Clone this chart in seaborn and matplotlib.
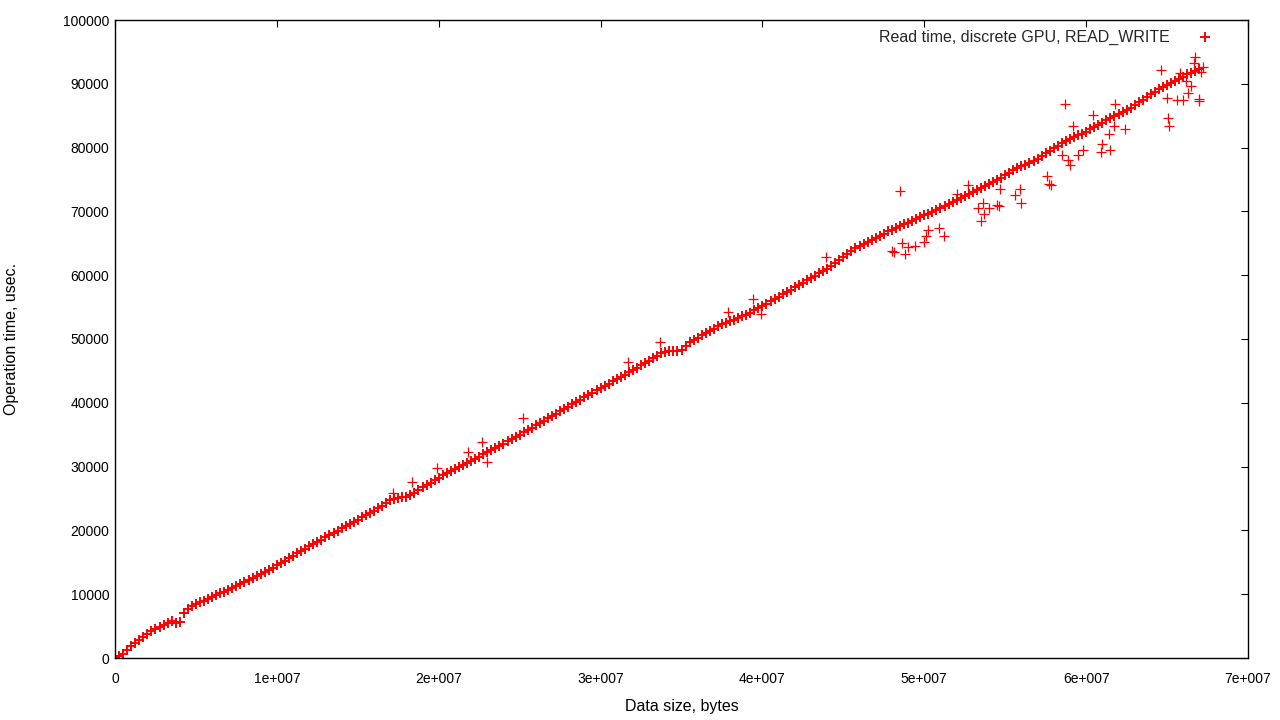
import numpy as np
import pandas as pd
import matplotlib
matplotlib.use("Agg")
import matplotlib.pyplot as plt
import seaborn as sns

# main band: read time (usec) every 0.25 MB of data size
band_step = 250_000
band_time = [
    0, 350, 700, 1280, 1830, 2300, 2800, 3290, 3780, 4230,
    4580, 4930, 5230, 5530, 5750, 5500, 5600, 7000, 7700, 8100,
    8400, 8700, 9000, 9300, 9600, 9870, 10150, 10420, 10690, 10980,
    11290, 11600, 11900, 12230, 12550, 12880, 13200, 13530, 13850, 14180,
    14500, 14880, 15250, 15630, 16000, 16380, 16750, 17130, 17500, 17850,
    18200, 18550, 18900, 19250, 19600, 19950, 20300, 20650, 21000, 21350,
    21700, 22050, 22400, 22750, 23100, 23500, 23900, 24300, 24700, 24900,
    25100, 25250, 25300, 25480, 25900, 26330, 26730, 27100, 27480, 27860,
    28240, 28620, 29000, 29310, 29630, 29940, 30250, 30560, 30880, 31210,
    31550, 31900, 32240, 32590, 32930, 33280, 33620, 33970, 34310, 34660,
    35000, 35370, 35730, 36100, 36460, 36830, 37190, 37560, 37920, 38290,
    38650, 39020, 39380, 39750, 40110, 40480, 40840, 41210, 41570, 41940,
    42300, 42650, 43000, 43350, 43700, 44050, 44400, 44750, 45100, 45480,
    45860, 46250, 46630, 47010, 47390, 47770, 48000, 48050, 48050, 48100,
    48330, 48920, 49500, 49860, 50210, 50570, 50920, 51280, 51630, 51990,
    52300, 52550, 52800, 53050, 53300, 53550, 53800, 54150, 54500, 54850,
    55200, 55560, 55930, 56290, 56650, 57010, 57380, 57740, 58100, 58460,
    58830, 59190, 59550, 59910, 60280, 60640, 61000, 61470, 61940, 62410,
    62880, 63340, 63810, 64200, 64530, 64870, 65200, 65530, 65870, 66200,
    66530, 66860, 67140, 67420, 67700, 67980, 68260, 68540, 68820, 69100,
    69380, 69650, 69930, 70200, 70480, 70770, 71100, 71430, 71770, 72100,
    72420, 72720, 73030, 73330, 73630, 73930, 74240, 74540, 74900, 75280,
    75660, 76040, 76420, 76800, 77060, 77330, 77590, 77880, 78280, 78690,
    79090, 79500, 79900, 80320, 80730, 81070, 81360, 81640, 81930, 82210,
    82500, 82860, 83220, 83580, 83930, 84250, 84580, 84900, 85240, 85580,
    85920, 86280, 86690, 87090, 87500, 87920, 88330, 88750, 89140, 89480,
    89830, 90170, 90490, 90820, 91140, 91460, 91770, 92080, 92380,
]

# scattered measurements off the main band
outlier_size = [
    1.72e7, 1.835e7, 1.99e7, 2.18e7, 2.27e7, 2.30e7, 2.52e7, 3.17e7, 3.37e7, 3.79e7,
    3.94e7, 3.99e7, 4.39e7, 4.85e7, 4.86e7, 4.80e7, 4.81e7, 4.88e7, 4.90e7, 4.94e7,
    5.00e7, 5.01e7, 5.02e7, 5.09e7, 5.12e7, 5.20e7, 5.27e7, 5.33e7, 5.37e7, 5.35e7,
    5.36e7, 5.40e7, 5.45e7, 5.46e7, 5.47e7, 5.56e7, 5.59e7, 5.60e7, 5.76e7, 5.77e7,
    5.78e7, 5.85e7, 5.87e7, 5.89e7, 5.90e7, 5.92e7, 5.95e7, 5.98e7, 6.04e7, 6.09e7,
    6.10e7, 6.14e7, 6.15e7, 6.17e7, 6.18e7, 6.24e7, 6.46e7, 6.50e7, 6.505e7, 6.51e7,
    6.56e7, 6.60e7, 6.63e7, 6.58e7, 6.62e7, 6.65e7, 6.67e7, 6.665e7, 6.70e7, 6.695e7,
    6.72e7, 6.71e7,
]
outlier_time = [
    25900, 27600, 29800, 32300, 33900, 30700, 37600, 46400, 49500, 54200,
    56300, 53900, 62900, 73200, 65000, 63800, 63600, 63300, 64400, 64600,
    65200, 66100, 67100, 67400, 66100, 72700, 74100, 70500, 69600, 68500,
    71300, 70500, 71000, 70800, 73500, 72600, 73500, 71300, 75500, 74300,
    74200, 78800, 86800, 78000, 77300, 83400, 78800, 79600, 85100, 79300,
    80600, 82100, 79600, 83400, 86800, 82900, 92200, 87800, 84600, 83400,
    87500, 87500, 88600, 91700, 90400, 89700, 94200, 93300, 87300, 87600,
    92600, 91800,
]

x_ticks = [0, 1e7, 2e7, 3e7, 4e7, 5e7, 6e7, 7e7]
x_tick_labels = ["0", "1e+007", "2e+007", "3e+007", "4e+007", "5e+007", "6e+007", "7e+007"]
y_ticks = list(range(0, 100001, 10000))

series_label = "Read time, discrete GPU, READ_WRITE"

band = pd.DataFrame({"size": band_step * np.arange(len(band_time)), "time": band_time})
spread = pd.DataFrame({"size": outlier_size, "time": outlier_time})

sns.set_theme(style="white")
plt.rcParams["font.family"] = ["Liberation Sans", "DejaVu Sans"]

fig = plt.figure(figsize=(12.8, 7.2), dpi=100)
ax = fig.add_axes([115 / 1280, 62 / 720, (1248 - 115) / 1280, (658 - 20) / 720])

sns.scatterplot(data=band, x="size", y="time", marker="+", s=50, color="red",
                linewidth=1.4, label=series_label, ax=ax)
sns.scatterplot(data=spread, x="size", y="time", marker="+", s=45, color="red",
                linewidth=0.9, ax=ax)

ax.set_xlim(0, 7e7)
ax.set_ylim(0, 100000)
ax.set_xticks(x_ticks)
ax.set_xticklabels(x_tick_labels)
ax.set_yticks(y_ticks)
ax.set_yticklabels([str(v) for v in y_ticks])
ax.tick_params(direction="in", length=5, width=0.8, top=True, right=True,
               labelsize=10, colors="black")
ax.tick_params(axis="x", pad=10)
ax.tick_params(axis="y", pad=4)
for sp in ax.spines.values():
    sp.set_color("black")
    sp.set_linewidth(1.0)

ax.set_xlabel("Data size, bytes", fontsize=11.5, color="black")
ax.set_ylabel("Operation time, usec.", fontsize=11.5, color="black")
ax.xaxis.set_label_coords(0.5, -0.064)
ax.yaxis.set_label_coords(-0.085, 0.5)

leg = ax.legend(loc="upper right", bbox_to_anchor=(0.982, 0.995), borderaxespad=0,
                frameon=False, markerfirst=False, fontsize=11.5, handletextpad=1.2)

fig.savefig("out.png", dpi=100)
